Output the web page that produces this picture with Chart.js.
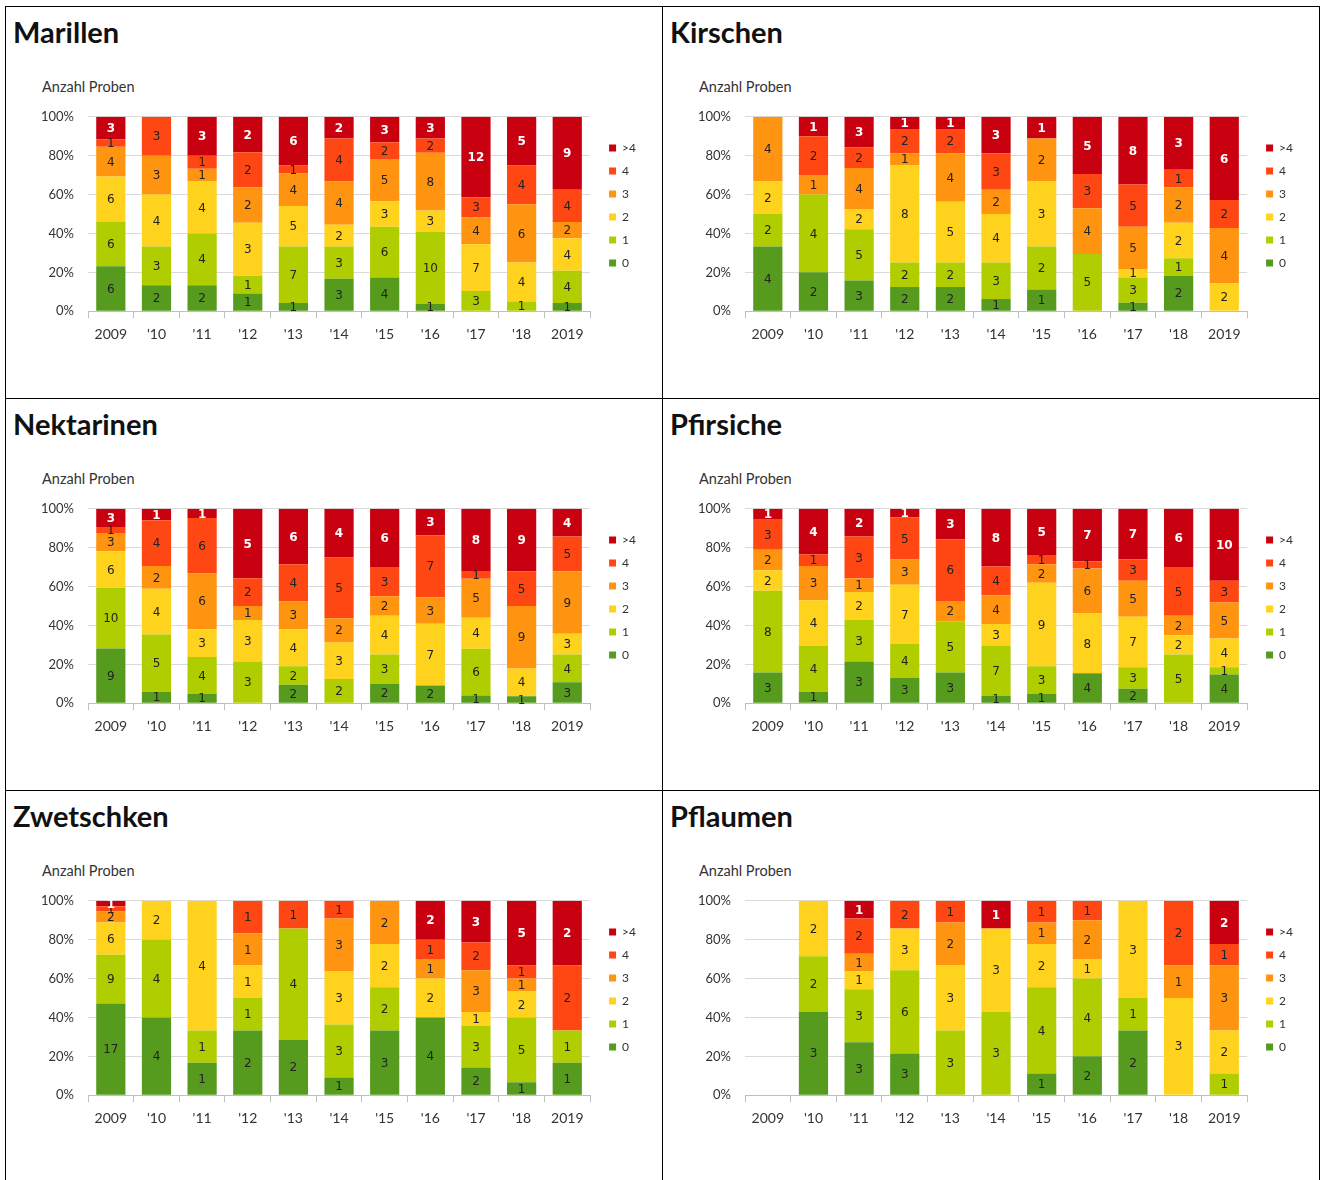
<!DOCTYPE html>
<html>
<head>
<meta charset="utf-8">
<title>Anzahl Proben je Obstart</title>
<script src="https://cdn.jsdelivr.net/npm/chart.js@4.4.1/dist/chart.umd.min.js"></script>
<style>
  body { margin: 0; background: #fff; font-family: Lato, sans-serif; }
  #grid {
    position: absolute; left: 5px; top: 6px;
    border-left: 1px solid #000; border-top: 1px solid #000;
    display: grid; grid-template-columns: 657px 657px;
  }
  .panel { position: relative; width: 656px; height: 391px; border-right: 1px solid #000; border-bottom: 1px solid #000; }
  .panel h2 { position: absolute; left: 7px; top: 11px; margin: 0; font: 700 29px/28px Lato, sans-serif; color: #111; }
  .panel .ytitle { position: absolute; left: 36px; top: 73px; font: 14.5px/14px Lato, sans-serif; color: #333; }
  .panel canvas { position: absolute; left: 0; top: 88px; }
</style>
</head>
<body>
<div id="grid"></div>
<script>
/* ── Data: Anzahl Proben per class (rows 0,1,2,3,4,>4), one value per year ── */
const years   = ['2009', "'10", "'11", "'12", "'13", "'14", "'15", "'16", "'17", "'18", '2019'];
const classes = ['0', '1', '2', '3', '4', '>4'];
const classColors = ['#569b1e', '#b0cd00', '#ffd21e', '#ff9410', '#ff4714', '#c8000f'];

const marillen = [
  [6, 2, 2, 1, 1, 3, 4, 1, 0, 0, 1],
  [6, 3, 4, 1, 7, 3, 6, 10, 3, 1, 4],
  [6, 4, 4, 3, 5, 2, 3, 3, 7, 4, 4],
  [4, 3, 1, 2, 4, 4, 5, 8, 4, 6, 2],
  [1, 3, 1, 2, 1, 4, 2, 2, 3, 4, 4],
  [3, 0, 3, 2, 6, 2, 3, 3, 12, 5, 9]
];
const kirschen = [
  [4, 2, 3, 2, 2, 1, 1, 0, 1, 2, 0],
  [2, 4, 5, 2, 2, 3, 2, 5, 3, 1, 0],
  [2, 0, 2, 8, 5, 4, 3, 0, 1, 2, 2],
  [4, 1, 4, 1, 4, 2, 2, 4, 5, 2, 4],
  [0, 2, 2, 2, 2, 3, 0, 3, 5, 1, 2],
  [0, 1, 3, 1, 1, 3, 1, 5, 8, 3, 6]
];
const nektarinen = [
  [9, 1, 1, 0, 2, 0, 2, 2, 1, 1, 3],
  [10, 5, 4, 3, 2, 2, 3, 0, 6, 0, 4],
  [6, 4, 3, 3, 4, 3, 4, 7, 4, 4, 3],
  [3, 2, 6, 1, 3, 2, 2, 3, 5, 9, 9],
  [1, 4, 6, 2, 4, 5, 3, 7, 1, 5, 5],
  [3, 1, 1, 5, 6, 4, 6, 3, 8, 9, 4]
];
const pfirsiche = [
  [3, 1, 3, 3, 3, 1, 1, 4, 2, 0, 4],
  [8, 4, 3, 4, 5, 7, 3, 0, 3, 5, 1],
  [2, 4, 2, 7, 0, 3, 9, 8, 7, 2, 4],
  [2, 3, 1, 3, 2, 4, 2, 6, 5, 2, 5],
  [3, 1, 3, 5, 6, 4, 1, 1, 3, 5, 3],
  [1, 4, 2, 1, 3, 8, 5, 7, 7, 6, 10]
];
const zwetschken = [
  [17, 4, 1, 2, 2, 1, 3, 4, 2, 1, 1],
  [9, 4, 1, 1, 4, 3, 2, 0, 3, 5, 1],
  [6, 2, 4, 1, 0, 3, 2, 2, 1, 2, 0],
  [2, 0, 0, 1, 0, 3, 2, 1, 3, 1, 0],
  [1, 0, 0, 1, 1, 1, 0, 1, 2, 1, 2],
  [1, 0, 0, 0, 0, 0, 0, 2, 3, 5, 2]
];
const pflaumen = [
  [0, 3, 3, 3, 0, 0, 1, 2, 2, 0, 0],
  [0, 2, 3, 6, 3, 3, 4, 4, 1, 0, 1],
  [0, 2, 1, 3, 3, 3, 2, 1, 3, 3, 2],
  [0, 0, 1, 0, 2, 0, 1, 2, 0, 1, 3],
  [0, 0, 2, 2, 1, 0, 1, 1, 0, 2, 1],
  [0, 0, 1, 0, 0, 1, 0, 0, 0, 0, 2]
];

const titles = ['Marillen', 'Kirschen', 'Nektarinen', 'Pfirsiche', 'Zwetschken', 'Pflaumen'];
const counts = [marillen, kirschen, nektarinen, pfirsiche, zwetschken, pflaumen];

/* ── Helpers ── */
function toPercent(rows) {
  const totals = years.map((_, i) => rows.reduce((s, r) => s + r[i], 0));
  return rows.map(r => r.map((v, i) => totals[i] ? v / totals[i] * 100 : 0));
}

// count labels in the middle of every segment
const countLabels = {
  id: 'countLabels',
  afterDatasetsDraw(chart) {
    const { ctx } = chart;
    ctx.save();
    ctx.textAlign = 'center';
    ctx.textBaseline = 'middle';
    chart.data.datasets.forEach((ds, di) => {
      const meta = chart.getDatasetMeta(di);
      const top = di === classes.length - 1;
      ctx.font = (top ? 'bold ' : '') + '12px "DejaVu Sans", sans-serif';
      ctx.fillStyle = top ? '#fff' : '#222';
      meta.data.forEach((bar, i) => {
        const n = ds.counts[i];
        if (!n) return;
        ctx.fillText(String(n), bar.x, (bar.y + bar.base) / 2 + 1);
      });
    });
    ctx.restore();
  }
};

Chart.defaults.font.family = 'Lato, sans-serif';
Chart.defaults.color = '#333';

/* ── Build panels ── */
const grid = document.getElementById('grid');

titles.forEach((title, k) => {
  const panel = document.createElement('div');
  panel.className = 'panel';
  panel.innerHTML = `<h2>${title}</h2><div class="ytitle">Anzahl Proben</div>
    <canvas width="656" height="260"></canvas>`;
  grid.appendChild(panel);

  const rows = counts[k];
  const pct = toPercent(rows);

  new Chart(panel.querySelector('canvas'), {
    type: 'bar',
    data: {
      labels: years,
      datasets: classes.map((c, j) => ({
        label: c,
        data: pct[j],
        counts: rows[j],
        backgroundColor: classColors[j],
        borderWidth: 0,
        barPercentage: 0.64,
        categoryPercentage: 1
      }))
    },
    options: {
      responsive: false,
      animation: false,
      layout: { padding: { top: 0, bottom: 4, left: 0, right: 16 } },
      plugins: {
        tooltip: { enabled: false },
        legend: {
          position: 'right',
          align: 'start',
          reverse: true,
          title: { display: true, text: '', font: { size: 36, lineHeight: 1 }, padding: 0 },
          labels: {
            boxWidth: 7,
            boxHeight: 7,
            padding: 11,
            color: '#333',
            font: { size: 12 }
          }
        }
      },
      scales: {
        x: {
          stacked: true,
          grid: { offset: true, drawOnChartArea: false, drawTicks: true, tickLength: 7, color: '#bfbfbf' },
          border: { color: '#bfbfbf' },
          ticks: { font: { size: 14 }, color: '#333', padding: 8, maxRotation: 0, autoSkip: false }
        },
        y: {
          stacked: true,
          min: 0,
          max: 100,
          grid: { color: '#d9d9d9', drawTicks: false },
          border: { display: false },
          ticks: { stepSize: 20, padding: 14, font: { size: 13 }, color: '#333', callback: v => v + '%' },
          afterFit: s => { s.width = 82; }
        },
        yr: {
          position: 'right',
          grid: { display: false },
          border: { display: false },
          ticks: { display: false },
          afterFit: s => { s.width = 8; }
        }
      }
    },
    plugins: [countLabels]
  });
});
</script>
</body>
</html>
